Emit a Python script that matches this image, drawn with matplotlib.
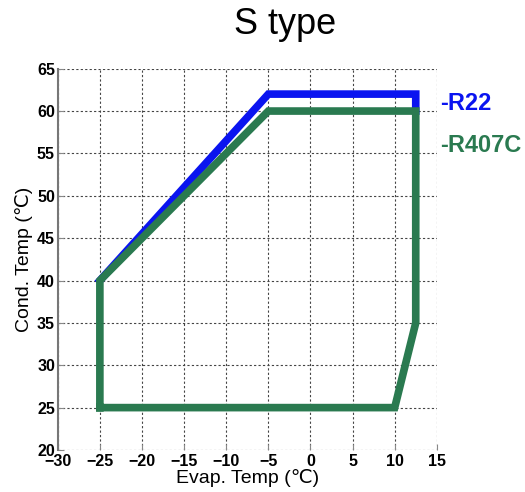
import matplotlib
matplotlib.use("Agg")
import matplotlib.pyplot as plt

# Data
r22_evap = [-25, -5, 12.5, 12.5]
r22_cond = [40, 62, 62, 60]
r407c_evap = [-25, -25, -5, 12.5, 12.5, 10, -25]
r407c_cond = [25, 40, 60, 60, 35, 25, 25]
x_ticks = [-30, -25, -20, -15, -10, -5, 0, 5, 10, 15]
y_ticks = [20, 25, 30, 35, 40, 45, 50, 55, 60, 65]

plt.rcParams['font.family'] = ['Liberation Sans', 'DejaVu Sans']

fig = plt.figure(figsize=(5.25, 4.92), dpi=100)
ax = fig.add_axes([0.110, 0.0854, 0.722, 0.775])

blue = '#0a14f0'
green = '#2a7a50'
ax.plot(r22_evap, r22_cond, color=blue, lw=5.5, solid_joinstyle='miter', zorder=3)
ax.plot(r407c_evap, r407c_cond, color=green, lw=5.5, solid_joinstyle='miter', zorder=4)

ax.set_xlim(-30, 15)
ax.set_ylim(20, 65)
ax.set_xticks(x_ticks)
ax.set_yticks(y_ticks)
ax.grid(True, linestyle=(0, (2, 2)), color='#444444', lw=0.8)
for s in ['top', 'right', 'bottom']:
    ax.spines[s].set_visible(False)
ax.spines['left'].set_color('#777777')
ax.spines['left'].set_linewidth(1.5)
ax.tick_params(axis='both', direction='in', length=4, color='#888888', labelsize=11.5)
for lbl in ax.get_xticklabels() + ax.get_yticklabels():
    lbl.set_fontweight('bold')
ax.tick_params(axis='x', pad=3)
ax.tick_params(axis='y', pad=2)

ax.set_xlabel('Evap. Temp (℃)', fontsize=14, labelpad=0)
ax.set_ylabel('Cond. Temp (℃)', fontsize=14, labelpad=3)

fig.text(285/525, 1 - 25/492, 'S type', fontsize=26, ha='center', va='center')
fig.text(440/525, 1 - 103/492, '-R22', fontsize=17, fontweight='bold', color=blue, ha='left', va='center')
fig.text(440/525, 1 - 145/492, '-R407C', fontsize=17, fontweight='bold', color=green, ha='left', va='center')

fig.savefig('out.png', dpi=100)
